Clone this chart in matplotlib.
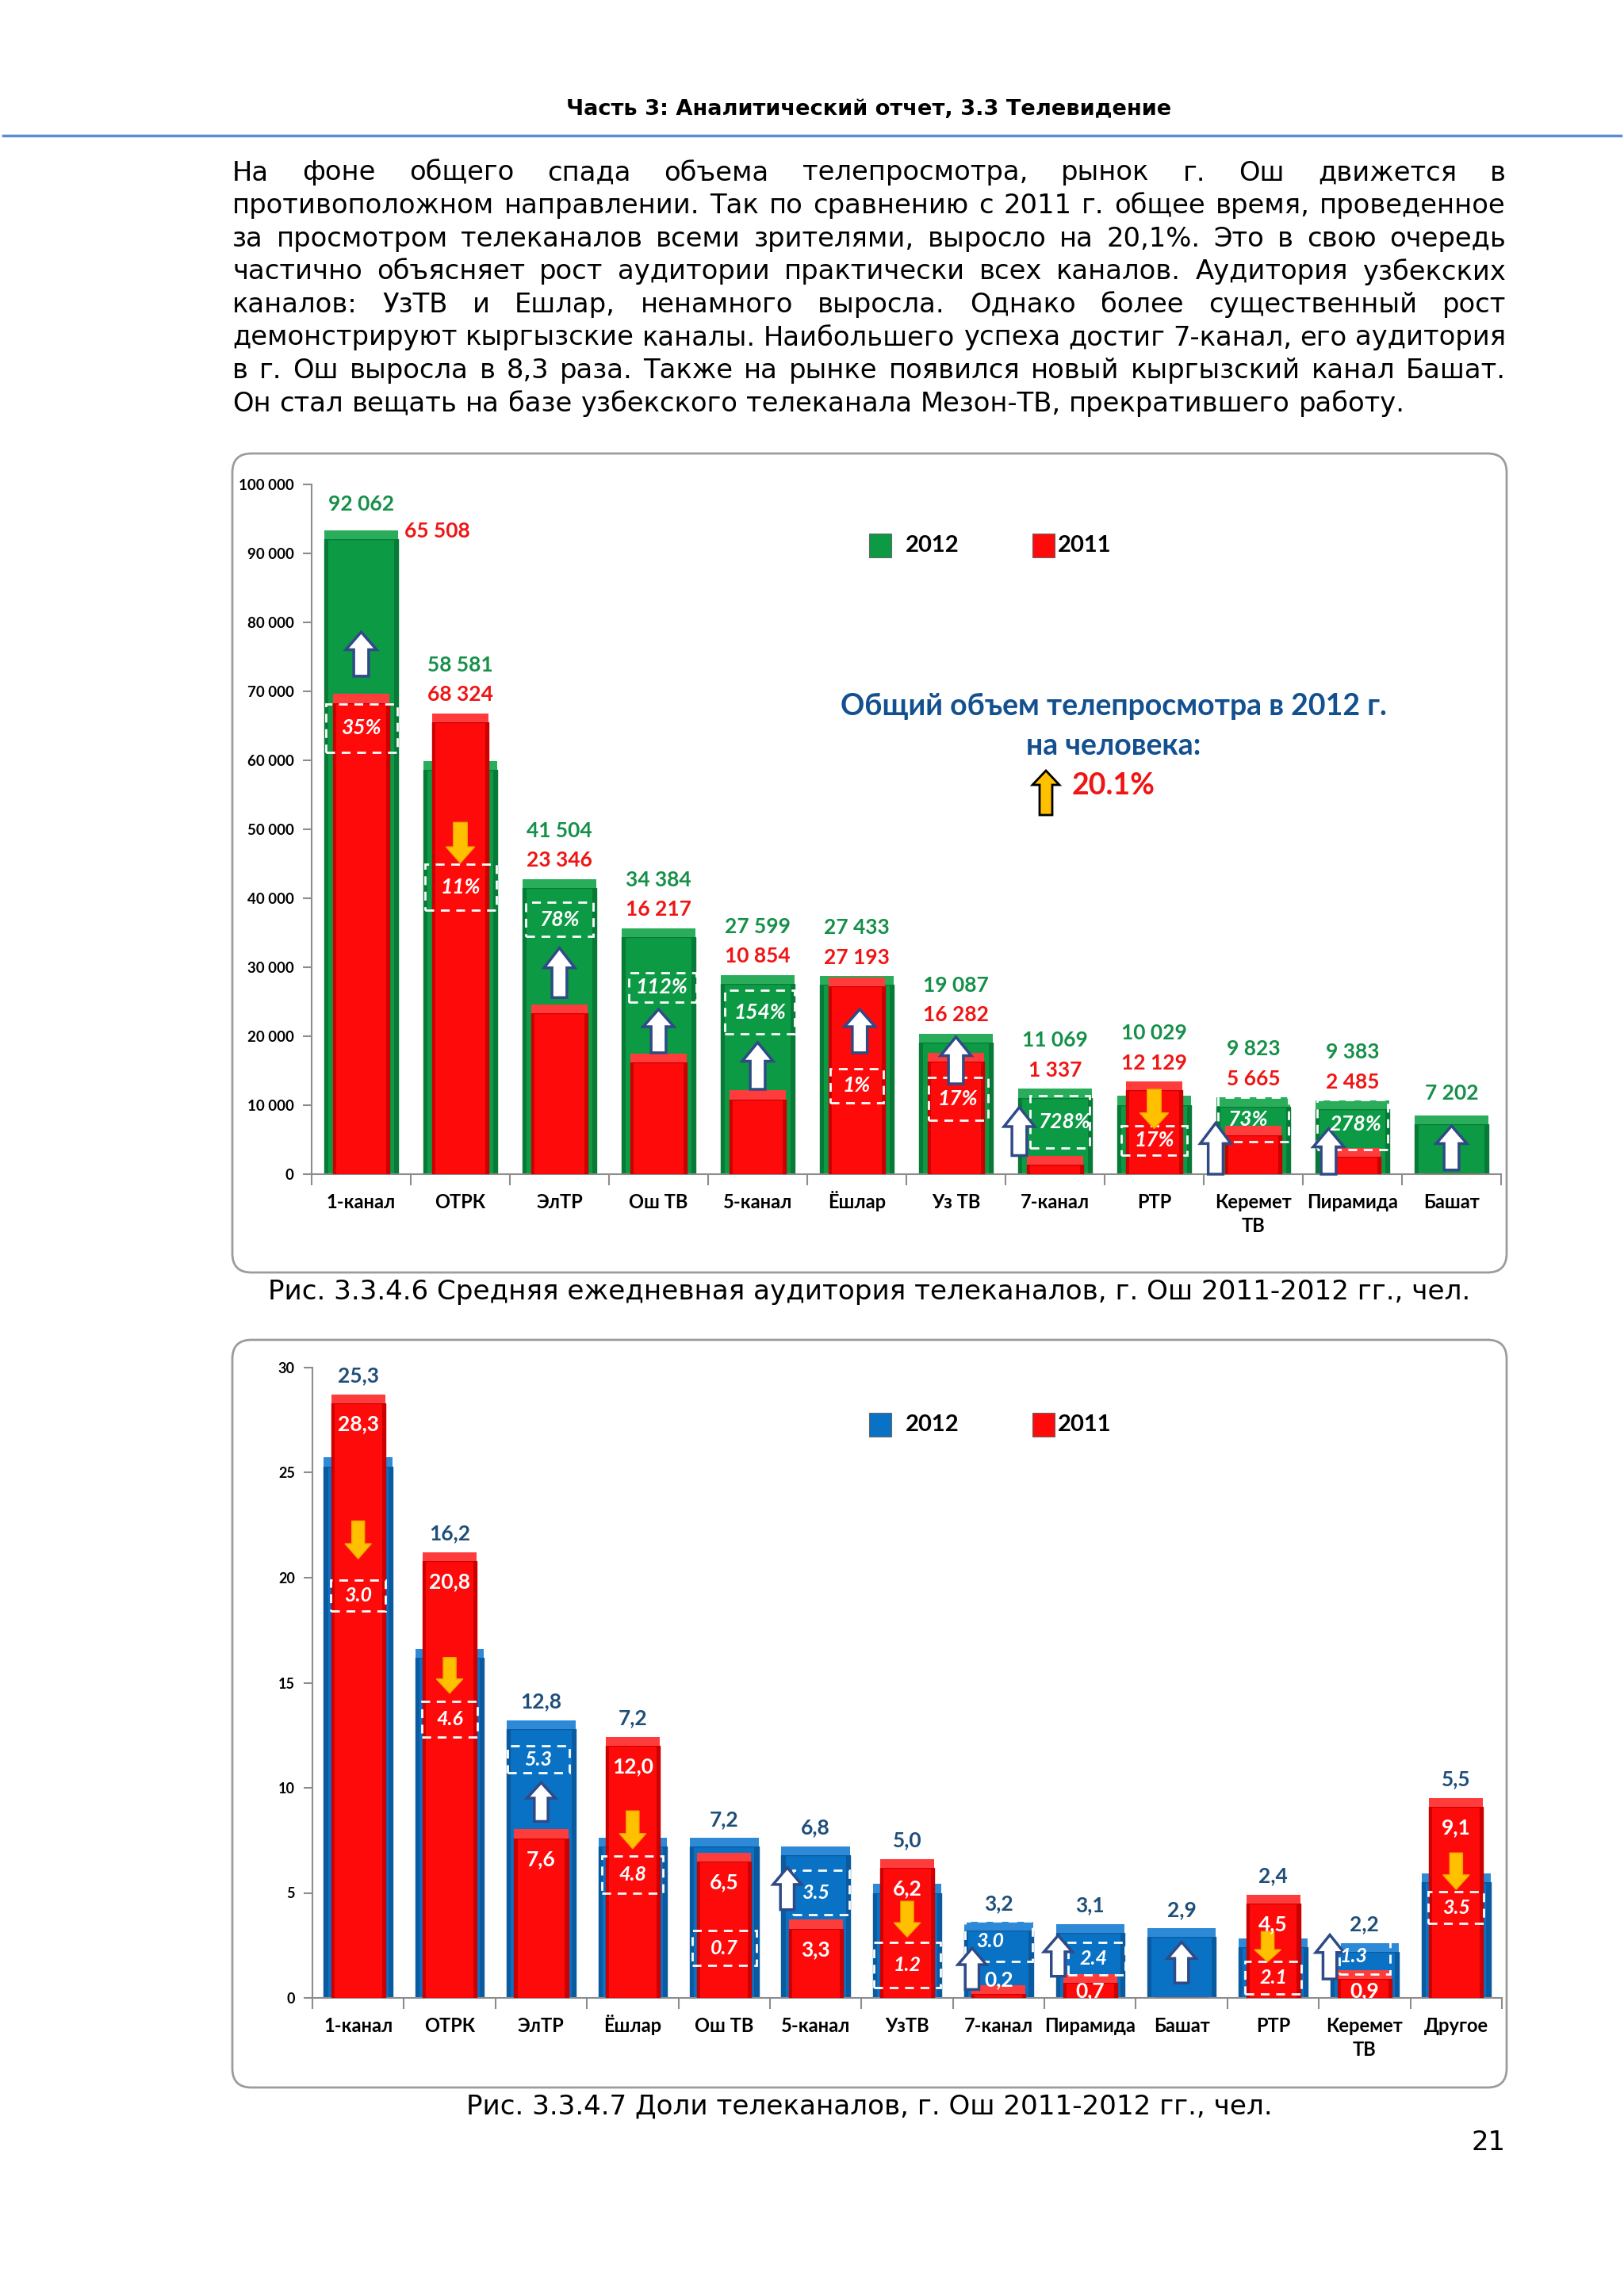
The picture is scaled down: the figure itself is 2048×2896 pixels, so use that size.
import numpy as np
import matplotlib
matplotlib.use('Agg')
import matplotlib.pyplot as plt
from matplotlib.patches import Polygon, Rectangle, FancyBboxPatch
from matplotlib.ticker import FuncFormatter
from matplotlib.transforms import offset_copy

CH = ['Lato', 'DejaVu Sans']      # chart font (Calibri-like)
PAGE = ['DejaVu Sans']            # page font (Verdana-like)

# ---------------- data: Рис. 3.3.4.6 (audience, persons)
aud_channels = ['1-канал', 'ОТРК', 'ЭлТР', 'Ош ТВ', '5-канал', 'Ёшлар', 'Уз ТВ',
                '7-канал', 'РТР', 'Керемет\nТВ', 'Пирамида', 'Башат']
aud_2012 = [92062, 58581, 41504, 34384, 27599, 27433, 19087, 11069, 10029, 9823, 9383, 7202]
aud_2011 = [68324, 65508, 23346, 16217, 10854, 27193, 16282, 1337, 12129, 5665, 2485, 0]
aud_change = ['35%', '11%', '78%', '112%', '154%', '1%', '17%', '728%', '17%', '73%', '278%', '']
aud_dir = [1, -1, 1, 1, 1, 1, 1, 1, -1, 1, 1, 1]

# ---------------- data: Рис. 3.3.4.7 (shares)
sh_channels = ['1-канал', 'ОТРК', 'ЭлТР', 'Ёшлар', 'Ош ТВ', '5-канал', 'УзТВ', '7-канал',
               'Пирамида', 'Башат', 'РТР', 'Керемет\nТВ', 'Другое']
sh_2012 = [25.3, 16.2, 12.8, 7.2, 7.2, 6.8, 5.0, 3.2, 3.1, 2.9, 2.4, 2.2, 5.5]
sh_2011 = [28.3, 20.8, 7.6, 12.0, 6.5, 3.3, 6.2, 0.2, 0.7, 0.0, 4.5, 0.9, 9.1]
sh_change = ['3.0', '4.6', '5.3', '4.8', '0.7', '3.5', '1.2', '3.0', '2.4', '', '2.1', '1.3', '3.5']
sh_dir = [-1, -1, 1, -1, 0, 1, -1, 1, 1, 1, -1, 1, -1]

# ---------------- annotation layout (boxes / arrows, data units)
top_box = [(61200, 68200), (38300, 44900), (34500, 39400), (25000, 29200), (20300, 26700),
           (10400, 15300), (7800, 14000), (3800, 11400), (2800, 7000), (4700, 11200), (3600, 10800), None]
top_box_w = [0.72, 0.72, 0.68, 0.68, 0.7, 0.53, 0.6, 0.6, 0.66, 0.71, 0.71, 0]
top_box_dx = [0, 0, 0, 0.04, 0.02, 0, 0.02, 0.05, 0, 0, 0, 0]
top_txt_dx = [0, 0, 0, 0.03, 0.02, 0, 0.02, 0.09, 0, -0.06, 0.03, 0]
top_arrow = [(72200, 78600), (45100, 51000), (25600, 32800), (17600, 23900), (12300, 19100),
             (17600, 23900), (13100, 19900), (2700, 9700), (6600, 12300), (0, 7400), (0, 6600), (600, 7000)]
top_arrow_dx = [0, 0, 0, 0, 0, 0.03, 0, -0.36, 0, -0.38, -0.24, 0]

bot_box = [(18.4, 19.9), (12.4, 14.1), (10.7, 12.0), (5.0, 6.75), (1.55, 3.2), (3.95, 6.08),
           (0.5, 2.66), (1.72, 3.66), (1.09, 2.66), None, (0.17, 1.72), (1.15, 2.78), (3.53, 5.04)]
bot_box_w = [0.6, 0.61, 0.68, 0.67, 0.7, 0.62, 0.72, 0.73, 0.63, 0, 0.62, 0.55, 0.61]
bot_box_dx = [0, 0, -0.03, 0, 0, 0.06, 0, 0, 0.07, 0, 0, 0, 0]
bot_txt_dx = [0, 0, -0.03, 0, 0, 0, 0, -0.09, 0.04, 0, 0, -0.12, 0]
bot_arrow = [(20.9, 22.7), (14.5, 16.2), (8.4, 10.25), (7.1, 8.9), None, (4.2, 6.2), (2.9, 4.6),
             (0.4, 2.37), (1.03, 2.97), (0.71, 2.66), (1.72, 3.16), (0.9, 3.0), (5.16, 6.9)]
bot_arrow_dx = [0, 0, 0, 0, 0, -0.31, 0, -0.29, -0.35, 0, -0.06, -0.38, 0]

GREEN, GREEN_D, GREEN_L = '#0c9a45', '#077a37', '#2aad5a'
RED, RED_D, RED_L = '#ff0a0a', '#cc0000', '#ff3c3c'
BLUE, BLUE_D, BLUE_L = '#0a72c4', '#0a5aa0', '#2e8ad6'
GREEN_T, RED_T, BLUE_T = '#159048', '#f01414', '#1f4e79'
ARROW_EDGE = '#2f4a86'
GOLD = '#ffc000'

fig = plt.figure(figsize=(20.48, 28.96), dpi=100)
fig.patch.set_facecolor('white')
bg = fig.add_axes([0, 0, 1, 1], zorder=0)
bg.set_xlim(0, 2048)
bg.set_ylim(2896, 0)
bg.axis('off')
renderer = fig.canvas.get_renderer()


def text_width(s, size, weight='normal', family=PAGE):
    t = bg.text(0, 0, s, fontsize=size, fontweight=weight, family=family)
    w = t.get_window_extent(renderer).width
    t.remove()
    return w


def fit_size(s, width, weight='normal'):
    return 20 * width / text_width(s, 20, weight)


# ---------------- page header and text
hs = fit_size('Часть 3: Аналитический отчет, 3.3 Телевидение', 764, 'bold')
bg.text(1096, 138, 'Часть 3: Аналитический отчет, 3.3 Телевидение', fontsize=hs,
        fontweight='bold', family=PAGE, ha='center', va='center')
bg.plot([4, 2044], [171, 171], color='#5b8bd0', lw=2.5)

para = ['На фоне общего спада объема телепросмотра, рынок г. Ош движется в',
        'противоположном направлении. Так по сравнению с 2011 г. общее время, проведенное',
        'за просмотром телеканалов всеми зрителями, выросло на 20,1%. Это в свою очередь',
        'частично объясняет рост аудитории практически всех каналов. Аудитория узбекских',
        'каналов: УзТВ и Ешлар, ненамного выросла. Однако более существенный рост',
        'демонстрируют кыргызские каналы. Наибольшего успеха достиг 7-канал, его аудитория',
        'в г. Ош выросла в 8,3 раза. Также на рынке появился новый кыргызский канал Башат.',
        'Он стал вещать на базе узбекского телеканала Мезон-ТВ, прекратившего работу.']
ps = fit_size(para[-1], 1475)
px0, px1 = 293, 1899
for k, line in enumerate(para):
    y = 218 + k * 41.6
    words = line.split(' ')
    ws = [text_width(w, ps) for w in words]
    if k == len(para) - 1:
        gap = 0.318 * ps * 100 / 72
    else:
        gap = (px1 - px0 - sum(ws)) / (len(words) - 1)
    x = px0
    for w, wd in zip(words, ws):
        bg.text(x, y, w, fontsize=ps, family=PAGE, ha='left', va='center')
        x += wd + gap

cap1 = 'Рис. 3.3.4.6 Средняя ежедневная аудитория телеканалов, г. Ош 2011-2012 гг., чел.'
cap2 = 'Рис. 3.3.4.7 Доли телеканалов, г. Ош 2011-2012 гг., чел.'
cs = fit_size(cap1, 1516)
bg.text(1096, 1629, cap1, fontsize=cs, family=PAGE, ha='center', va='center')
bg.text(1096, 2657, cap2, fontsize=cs, family=PAGE, ha='center', va='center')
bg.text(1899, 2703, '21', fontsize=ps, family=PAGE, ha='right', va='center')

# chart panels
for (y0, h) in [(572, 1033), (1690, 943)]:
    bg.add_patch(FancyBboxPatch((293, y0), 1607, h, boxstyle='round,pad=0,rounding_size=24',
                                fc='white', ec='#9c9c9c', lw=2, zorder=0))


# ---------------- helpers
def bevel_bars(ax, x, h, w, face, dark, light, cap_h, z):
    h = np.asarray(h, dtype=float)
    ax.bar(x, h, width=w, color=face, edgecolor=dark, linewidth=1.0, zorder=z)
    sw = w * 0.06
    ax.bar(x - w / 2 + sw / 2, h, width=sw, color=dark, linewidth=0, zorder=z + 0.1)
    ax.bar(x + w / 2 - sw / 2, h, width=sw, color=dark, linewidth=0, zorder=z + 0.1)
    ax.bar(x, np.where(h > 0, cap_h, 0), bottom=h, width=w, color=light,
           linewidth=0, zorder=z)


def block_arrow(ax, x, lo, hi, direction, hw, sw, face, edge, lw=2.5):
    hl = (hi - lo) * 0.4
    if direction > 0:
        pts = [(x - sw / 2, lo), (x + sw / 2, lo), (x + sw / 2, hi - hl), (x + hw / 2, hi - hl),
               (x, hi), (x - hw / 2, hi - hl), (x - sw / 2, hi - hl)]
    else:
        pts = [(x - sw / 2, hi), (x + sw / 2, hi), (x + sw / 2, lo + hl), (x + hw / 2, lo + hl),
               (x, lo), (x - hw / 2, lo + hl), (x - sw / 2, lo + hl)]
    ax.add_patch(Polygon(pts, closed=True, fc=face, ec=edge, lw=lw, zorder=8, clip_on=False))


def style_axes(ax, labels, ymax, step, fmt):
    ax.patch.set_alpha(0)
    n = len(labels)
    ax.set_xlim(-0.5, n - 0.5)
    ax.set_ylim(0, ymax)
    for s in ['top', 'right']:
        ax.spines[s].set_visible(False)
    for s in ['left', 'bottom']:
        ax.spines[s].set_color('#8c8c8c')
        ax.spines[s].set_linewidth(1.5)
    ax.set_yticks(np.arange(0, ymax + 1e-9, step))
    ax.yaxis.set_major_formatter(FuncFormatter(fmt))
    ax.set_xticks(np.arange(n))
    ax.set_xticklabels([])
    ax.set_xticks(np.arange(-0.5, n, 1.0), minor=True)
    ax.tick_params(axis='x', which='major', length=0)
    ax.tick_params(axis='x', which='minor', length=10, color='#8c8c8c', width=1.5)
    ax.tick_params(axis='y', length=8, color='#8c8c8c', width=1.5, pad=8)
    for t in ax.get_yticklabels():
        t.set_family(CH)
        t.set_fontweight('bold')
        t.set_fontsize(13.5)
    # category names: every line placed on its own baseline below the axis
    for i, lab in enumerate(labels):
        for k, part in enumerate(lab.split('\n')):
            tr = offset_copy(ax.get_xaxis_transform(), fig=fig, x=0, y=-43 - 30 * k, units='dots')
            ax.text(i, 0, part, transform=tr, ha='center', va='baseline', fontsize=17,
                    fontweight='bold', family=CH, clip_on=False)


def legend(y, c2012):
    for x0, c, lab in [(1096, c2012, '2012'), (1302, RED, '2011')]:
        bg.add_patch(Rectangle((x0, y - 15), 28, 30, fc=c, ec='#666666', lw=0.8))
    bg.text(1142, y, '2012', fontsize=21, fontweight='bold', family=CH, va='center')
    bg.text(1334, y, '2011', fontsize=21, fontweight='bold', family=CH, va='center')


def thousands(v, p):
    return f'{int(v):,}'.replace(',', ' ')


def comma(v):
    return f'{v:.1f}'.replace('.', ',')


# ---------------- chart 1: audience
ax1 = fig.add_axes([393 / 2048, 1 - 1481 / 2896, 1500 / 2048, 870 / 2896], zorder=1)
x1 = np.arange(len(aud_channels))
bevel_bars(ax1, x1, aud_2012, 0.75, GREEN, GREEN_D, GREEN_L, 1300, 2)
bevel_bars(ax1, x1, aud_2011, 0.57, RED, RED_D, RED_L, 1300, 3)
style_axes(ax1, aud_channels, 100000, 10000, thousands)

lbl_2012 = [thousands(v, None) for v in aud_2012]
lbl_2011 = [thousands(v, None) if v > 0 else '' for v in aud_2011]
# the original chart prints the 2011 labels of the first two channels swapped
lbl_2011[0], lbl_2011[1] = lbl_2011[1], lbl_2011[0]

for i in range(len(aud_channels)):
    g, r = aud_2012[i], aud_2011[i]
    top = max(g, r)
    kw = dict(fontsize=19, fontweight='bold', family=CH, ha='center', va='center', clip_on=False)
    if i == 0:
        ax1.text(i + 0.77, g + 1200, lbl_2011[i], color=RED_T, **kw)
        ax1.text(i, g + 5100, lbl_2012[i], color=GREEN_T, **kw)
    elif r > 0:
        ax1.text(i, top + 4000, lbl_2011[i], color=RED_T, **kw)
        ax1.text(i, top + 8300, lbl_2012[i], color=GREEN_T, **kw)
    else:
        ax1.text(i, top + 4500, lbl_2012[i], color=GREEN_T, **kw)

    if top_box[i] is not None:
        lo, hi = top_box[i]
        bw = top_box_w[i]
        cx = i + top_box_dx[i]
        ax1.add_patch(Rectangle((cx - bw / 2, lo), bw, hi - lo, fill=False, ec='white',
                                lw=2, ls=(0, (4, 3)), zorder=7))
        ax1.text(i + top_txt_dx[i], (lo + hi) / 2, aud_change[i], color='white', fontsize=19,
                 fontweight='bold', style='italic', family=CH, ha='center', va='center', zorder=9)
    alo, ahi = top_arrow[i]
    if aud_dir[i] > 0:
        block_arrow(ax1, i + top_arrow_dx[i], alo, ahi, 1, 0.31, 0.15, 'white', ARROW_EDGE)
    else:
        block_arrow(ax1, i + top_arrow_dx[i], alo, ahi, -1, 0.29, 0.14, GOLD, '#f0a800', lw=1)

legend(688, GREEN)
bg.text(1404, 891, 'Общий объем телепросмотра в 2012 г.', fontsize=27, fontweight='bold',
        family=CH, color='#12508f', ha='center', va='center')
bg.text(1404, 941, 'на человека:', fontsize=27, fontweight='bold',
        family=CH, color='#12508f', ha='center', va='center')
gx, gy0, gy1 = 1319, 1028, 972
bg.add_patch(Polygon([(gx - 8, gy0), (gx + 8, gy0), (gx + 8, gy1 + 18), (gx + 17, gy1 + 18),
                      (gx, gy1), (gx - 17, gy1 + 18), (gx - 8, gy1 + 18)],
                     closed=True, fc=GOLD, ec='black', lw=2, zorder=3))
bg.text(1352, 991, '20.1%', fontsize=27, fontweight='bold', family=CH, color=RED_T,
        ha='left', va='center')

# ---------------- chart 2: shares
ax2 = fig.add_axes([394 / 2048, 1 - 2520 / 2896, 1500 / 2048, 795 / 2896], zorder=1)
x2 = np.arange(len(sh_channels))
bevel_bars(ax2, x2, sh_2012, 0.75, BLUE, BLUE_D, BLUE_L, 0.42, 2)
bevel_bars(ax2, x2, sh_2011, 0.59, RED, RED_D, RED_L, 0.42, 3)
style_axes(ax2, sh_channels, 30, 5, lambda v, p: f'{int(v)}')
for t in ax2.get_yticklabels():
    t.set_fontsize(13)

for i in range(len(sh_channels)):
    b, r = sh_2012[i], sh_2011[i]
    top = max(b, r)
    ax2.text(i, top + 1.3, comma(b), color=BLUE_T, fontsize=19, fontweight='bold', family=CH,
             ha='center', va='center', clip_on=False)
    if r > 0:
        if r >= 2:
            ry = r - 1.0
        elif r < 0.5:
            ry = r + 0.65
        else:
            ry = 0.35
        ax2.text(i, ry, comma(r), color='white', fontsize=19, fontweight='bold', family=CH,
                 ha='center', va='center', zorder=9)
    if bot_box[i] is not None:
        lo, hi = bot_box[i]
        bw = bot_box_w[i]
        cx = i + bot_box_dx[i]
        ax2.add_patch(Rectangle((cx - bw / 2, lo), bw, hi - lo, fill=False, ec='white',
                                lw=2, ls=(0, (4, 3)), zorder=7))
        ax2.text(i + bot_txt_dx[i], (lo + hi) / 2, sh_change[i], color='white', fontsize=18,
                 fontweight='bold', style='italic', family=CH, ha='center', va='center', zorder=9)
    if bot_arrow[i] is not None:
        alo, ahi = bot_arrow[i]
        if sh_dir[i] > 0:
            block_arrow(ax2, i + bot_arrow_dx[i], alo, ahi, 1, 0.31, 0.15, 'white', ARROW_EDGE)
        else:
            block_arrow(ax2, i + bot_arrow_dx[i], alo, ahi, -1, 0.29, 0.14, GOLD, '#f0a800', lw=1)

legend(1797, BLUE)

fig.savefig('out.png', dpi=100, facecolor='white')
